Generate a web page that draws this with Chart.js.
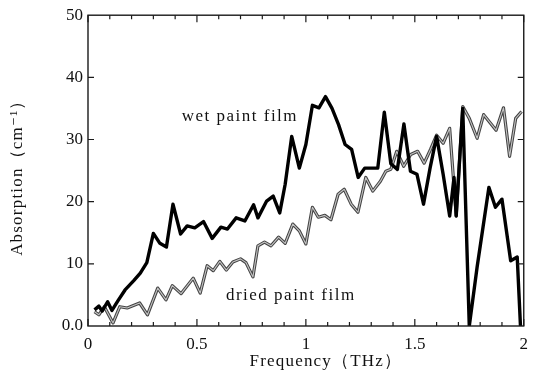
<!DOCTYPE html>
<html>
<head>
<meta charset="utf-8">
<title>Absorption spectrum</title>
<script src="https://cdn.jsdelivr.net/npm/chart.js@4.4.0/dist/chart.umd.min.js"></script>
<style>
    html, body { margin: 0; padding: 0; background: #fff; }
    canvas { display: block; }
</style>
</head>
<body>
<canvas id="absorptionChart" width="536" height="381"></canvas>
<script>
// Values
const wetFreq = [0.03, 0.05, 0.065, 0.09, 0.11, 0.14, 0.17, 0.21, 0.24, 0.27, 0.30, 0.33, 0.36, 0.39, 0.425, 0.455, 0.49, 0.53, 0.57, 0.61, 0.64, 0.68, 0.72, 0.76, 0.78, 0.82, 0.85, 0.88, 0.905, 0.935, 0.97, 1.0, 1.03, 1.06, 1.09, 1.12, 1.15, 1.18, 1.21, 1.24, 1.27, 1.33, 1.36, 1.39, 1.42, 1.45, 1.48, 1.51, 1.54, 1.57, 1.60, 1.63, 1.66, 1.68, 1.69, 1.72, 1.75, 1.786, 1.84, 1.87, 1.90, 1.94, 1.97, 1.985];
const wetAbs = [2.6, 3.2, 2.4, 3.9, 2.5, 4.2, 5.8, 7.3, 8.5, 10.2, 14.9, 13.3, 12.7, 19.6, 14.8, 16.1, 15.8, 16.8, 14.1, 15.9, 15.6, 17.4, 16.9, 19.5, 17.4, 20.1, 20.9, 18.2, 22.8, 30.5, 25.4, 29.2, 35.5, 35.1, 36.9, 35.0, 32.4, 29.2, 28.4, 23.9, 25.4, 25.4, 34.4, 26.1, 25.2, 32.5, 24.9, 24.4, 19.6, 25.4, 30.5, 24.4, 17.7, 23.9, 17.7, 35.0, 0.0, 9.5, 22.3, 19.1, 20.4, 10.5, 11.1, 0.0];

const driedFreq = [0.03, 0.05, 0.075, 0.115, 0.146, 0.18, 0.237, 0.273, 0.32, 0.358, 0.387, 0.427, 0.483, 0.515, 0.547, 0.575, 0.605, 0.635, 0.665, 0.70, 0.725, 0.757, 0.78, 0.81, 0.84, 0.875, 0.905, 0.94, 0.97, 1.0, 1.03, 1.057, 1.087, 1.115, 1.148, 1.176, 1.208, 1.239, 1.275, 1.307, 1.342, 1.367, 1.39, 1.417, 1.449, 1.481, 1.513, 1.543, 1.572, 1.60, 1.63, 1.66, 1.69, 1.72, 1.75, 1.786, 1.816, 1.873, 1.907, 1.935, 1.963, 1.99];
const driedAbs = [2.3, 1.8, 3.1, 0.5, 3.1, 2.9, 3.7, 1.8, 6.1, 4.2, 6.5, 5.2, 7.7, 5.3, 9.7, 8.9, 10.4, 9.0, 10.3, 10.8, 10.2, 7.9, 12.9, 13.5, 12.9, 14.3, 13.3, 16.4, 15.3, 13.2, 19.1, 17.5, 17.8, 17.1, 21.2, 22.0, 19.6, 18.3, 23.9, 21.7, 23.3, 24.9, 25.2, 28.1, 25.7, 27.6, 28.1, 26.2, 28.4, 30.7, 29.4, 31.8, 17.7, 35.3, 33.4, 30.2, 34.0, 31.5, 35.1, 27.3, 33.4, 34.5];

const xTicks = [0, 0.5, 1, 1.5, 2];
const yTicks = [0, 10, 20, 30, 40, 50];

const xTitle = 'Frequency（THz）';
const yTitle = 'Absorption（cm⁻¹）';

// In-plot labels, anchored in data units
const curveLabels = [
    { text: 'wet paint film', x: 0.43, y: 32.9 },
    { text: 'dried paint film', x: 0.633, y: 4.15 }
];

const SERIF = '"Liberation Serif", "DejaVu Serif", serif';

class AbsorptionChart {
    constructor() {
        this.canvas = document.getElementById('absorptionChart');
        this.init();
    }

    init() {
        Chart.defaults.font.family = SERIF;
        Chart.defaults.color = '#111';
        this.chart = new Chart(this.canvas.getContext('2d'), {
            type: 'line',
            data: { datasets: this.buildDatasets() },
            options: this.buildOptions(),
            plugins: [this.framePlugin()]
        });
    }

    toPoints(xs, ys) {
        return xs.map((x, i) => ({ x: x, y: ys[i] }));
    }

    buildDatasets() {
        const base = { pointRadius: 0, tension: 0, borderJoinStyle: 'round', fill: false };
        return [
            Object.assign({}, base, {
                label: 'wet paint film',
                data: this.toPoints(wetFreq, wetAbs),
                borderColor: '#000',
                borderWidth: 3.4
            }),
            // dried curve is printed as a hollow grey line: light core...
            Object.assign({}, base, {
                label: 'dried paint film',
                data: this.toPoints(driedFreq, driedAbs),
                borderColor: '#c4c4c4',
                borderWidth: 1.1
            }),
            // ...over a darker outline
            Object.assign({}, base, {
                label: 'dried outline',
                data: this.toPoints(driedFreq, driedAbs),
                borderColor: '#444',
                borderWidth: 3.2
            })
        ];
    }

    buildOptions() {
        return {
            responsive: false,
            animation: false,
            layout: { padding: { left: 0, right: 9, top: 13, bottom: 0 } },
            plugins: { legend: { display: false }, tooltip: { enabled: false } },
            scales: {
                x: {
                    type: 'linear',
                    min: 0,
                    max: 2,
                    afterFit: (scale) => { scale.height = 55; },
                    afterBuildTicks: (scale) => { scale.ticks = xTicks.map(v => ({ value: v })); },
                    grid: { display: false, drawTicks: false },
                    border: { display: false },
                    ticks: {
                        padding: 8,
                        maxRotation: 0,
                        autoSkip: false,
                        font: { size: 17 },
                        callback: (v) => String(v)
                    }
                },
                y: {
                    min: 0,
                    max: 50,
                    afterFit: (scale) => { scale.width = 88; },
                    afterBuildTicks: (scale) => { scale.ticks = yTicks.map(v => ({ value: v })); },
                    grid: { display: false, drawTicks: false },
                    border: { display: false },
                    ticks: {
                        padding: 5,
                        font: { size: 17 },
                        callback: (v) => (v === 0 ? '0.0' : String(v))
                    }
                }
            }
        };
    }

    // Box frame, inward ticks, axis titles and the curve labels
    framePlugin() {
        return {
            id: 'frame',
            afterDraw: (chart) => {
                const { ctx, chartArea: a, scales } = chart;
                ctx.save();
                ctx.strokeStyle = '#1a1a1a';
                ctx.lineWidth = 1.4;
                ctx.strokeRect(a.left, a.top, a.right - a.left, a.bottom - a.top);

                ctx.lineWidth = 1.2;
                ctx.beginPath();
                for (let i = 0; i <= 20; i++) {
                    const px = scales.x.getPixelForValue(i / 10);
                    const len = i % 5 === 0 ? 7 : 4;
                    ctx.moveTo(px, a.bottom); ctx.lineTo(px, a.bottom - len);
                    ctx.moveTo(px, a.top); ctx.lineTo(px, a.top + len);
                }
                yTicks.slice(1, -1).forEach(v => {
                    const py = scales.y.getPixelForValue(v);
                    ctx.moveTo(a.left, py); ctx.lineTo(a.left + 6, py);
                    ctx.moveTo(a.right, py); ctx.lineTo(a.right - 6, py);
                });
                ctx.stroke();

                ctx.fillStyle = '#111';
                ctx.font = '17px ' + SERIF;
                ctx.letterSpacing = '1.5px';
                ctx.textAlign = 'left';
                ctx.textBaseline = 'alphabetic';
                curveLabels.forEach(l => {
                    ctx.fillText(l.text, scales.x.getPixelForValue(l.x), scales.y.getPixelForValue(l.y));
                });

                // axis titles (the scan sets them a little right of / below centre)
                ctx.letterSpacing = '1.2px';
                ctx.textAlign = 'center';
                ctx.textBaseline = 'middle';
                ctx.fillText(xTitle, (a.left + a.right) / 2 + 20, 362);

                ctx.translate(18, (a.top + a.bottom) / 2 + 3);
                ctx.rotate(-Math.PI / 2);
                ctx.fillText(yTitle, 0, 0);
                ctx.restore();
            }
        };
    }
}

new AbsorptionChart();
</script>
</body>
</html>
